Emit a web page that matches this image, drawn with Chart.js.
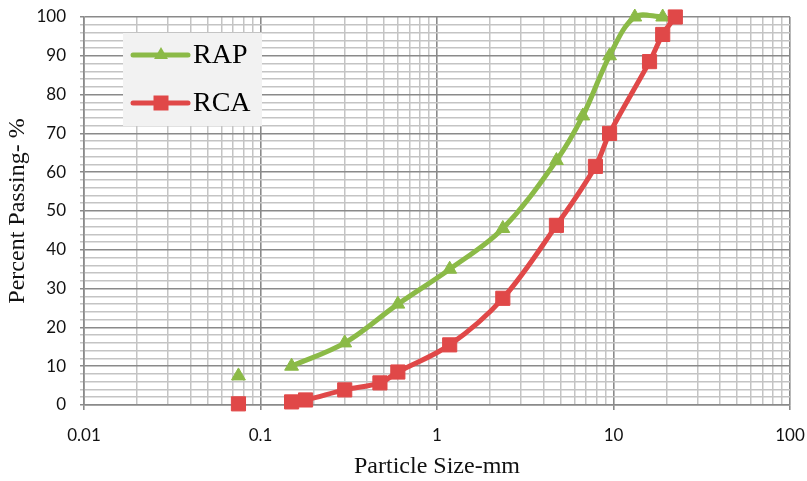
<!DOCTYPE html>
<html lang="en">
<head>
<meta charset="UTF-8">
<title>Particle Size Distribution</title>
<script src="https://cdn.jsdelivr.net/npm/chart.js"></script>
<style>
  body { margin: 0; background: #fff; }
  .wrap { width: 807px; height: 481px; position: relative; }
</style>
</head>
<body>
<div class="wrap"><canvas id="gradChart"></canvas></div>
<script>
// sieve sizes (mm) and percent passing
const rapSize = [0.075, 0.15, 0.3, 0.6, 1.18, 2.36, 4.75, 6.7, 9.5, 13.2, 19];
const rapPassing = [7.5, 10, 16, 26, 35, 45.5, 63, 74.5, 90, 100, 100];
const rcaSize = [0.075, 0.15, 0.18, 0.3, 0.475, 0.6, 1.18, 2.36, 4.75, 7.9, 9.5, 16, 19, 22.4];
const rcaPassing = [0.3, 0.8, 1.3, 3.9, 5.7, 8.5, 15.5, 27.5, 46.3, 61.5, 70, 88.5, 95.5, 100];
const xTickLabels = ['0.01', '0.1', '1', '10', '100'];
const yTickLabels = [0, 10, 20, 30, 40, 50, 60, 70, 80, 90, 100];

const green = '#8BBA47';
const red = '#E04848';
const majorGrid = '#8a8a8a';
const minorGrid = '#c4c4c4';

function toPoints(xs, ys) {
    return xs.map((x, i) => ({ x: x, y: ys[i] }));
}
const rapPts = toPoints(rapSize, rapPassing);
const rcaPts = toPoints(rcaSize, rcaPassing);

function isDecade(v) {
    const l = Math.log10(v);
    return Math.abs(l - Math.round(l)) < 1e-6;
}

// decade ticks plus 2..9 minor ticks inside every decade
const decades = xTickLabels.map(Number);
const xTicks = [];
decades.forEach((d, i) => {
    xTicks.push(d);
    if (i < decades.length - 1) {
        for (let k = 2; k <= 9; k++) xTicks.push(+(d * k).toPrecision(6));
    }
});

function seriesStyle(color, shape, radius) {
    return {
        borderColor: color,
        backgroundColor: color,
        pointBackgroundColor: color,
        pointBorderColor: color,
        pointStyle: shape,
        pointRadius: radius,
        pointHoverRadius: radius,
        pointBorderWidth: 1,
        borderWidth: 5,
        tension: 0.35,
        capBezierPoints: false,
        clip: false
    };
}

// legend box drawn inside the plot, like the spreadsheet original
const legendBox = {
    id: 'legendBox',
    afterDraw(chart) {
        const ctx = chart.ctx;
        const a = chart.chartArea;
        const bx = a.left + 39, by = a.top + 16, bw = 139, bh = 93;
        ctx.save();
        ctx.fillStyle = '#f2f2f2';
        ctx.fillRect(bx, by, bw, bh);
        const items = [
            { text: 'RAP', color: green, shape: 'triangle', y: by + 22 },
            { text: 'RCA', color: red, shape: 'rect', y: by + 70 }
        ];
        items.forEach(it => {
            ctx.strokeStyle = it.color;
            ctx.lineWidth = 5;
            ctx.lineCap = 'round';
            ctx.beginPath();
            ctx.moveTo(bx + 10, it.y);
            ctx.lineTo(bx + 65, it.y);
            ctx.stroke();
            ctx.fillStyle = it.color;
            const cx = bx + 38;
            ctx.beginPath();
            if (it.shape === 'triangle') {
                const r = 8;
                ctx.moveTo(cx, it.y - r);
                ctx.lineTo(cx + r * 0.866, it.y + r * 0.5);
                ctx.lineTo(cx - r * 0.866, it.y + r * 0.5);
                ctx.closePath();
            } else {
                ctx.rect(cx - 7.5, it.y - 7.5, 15, 15);
            }
            ctx.fill();
            ctx.fillStyle = '#000';
            ctx.font = "28px 'Liberation Serif'";
            ctx.textBaseline = 'middle';
            ctx.fillText(it.text, bx + 70, it.y + 1);
        });
        ctx.restore();
    }
};

const chart = new Chart(document.getElementById('gradChart'), {
    type: 'line',
    data: {
        datasets: [
            Object.assign({ label: 'RCA', data: rcaPts.slice(1) }, seriesStyle(red, 'rect', 10)),
            Object.assign({ label: 'RCA', data: rcaPts.slice(0, 1), showLine: false }, seriesStyle(red, 'rect', 10)),
            Object.assign({ label: 'RAP', data: rapPts.slice(1) }, seriesStyle(green, 'triangle', 8)),
            Object.assign({ label: 'RAP', data: rapPts.slice(0, 1), showLine: false }, seriesStyle(green, 'triangle', 8))
        ]
    },
    options: {
        responsive: true,
        maintainAspectRatio: false,
        animation: false,
        layout: { padding: { top: 17, right: 17, left: 0, bottom: 0 } },
        plugins: {
            legend: { display: false },
            tooltip: { enabled: false }
        },
        scales: {
            x: {
                type: 'logarithmic',
                min: 0.01,
                max: 100,
                afterBuildTicks: scale => { scale.ticks = xTicks.map(v => ({ value: v })); },
                afterFit: scale => {
                    scale.height = 76;
                    scale.paddingLeft = 0;
                    scale.paddingRight = 0;
                },
                ticks: {
                    autoSkip: false,
                    maxRotation: 0,
                    padding: 15,
                    color: '#111',
                    font: { family: 'Lato', size: 17 },
                    callback: v => isDecade(v) ? xTickLabels[Math.round(Math.log10(v)) + 2] : ''
                },
                grid: {
                    color: c => isDecade(c.tick.value) ? majorGrid : minorGrid,
                    lineWidth: c => isDecade(c.tick.value) ? 1.6 : 1.5,
                    tickColor: c => isDecade(c.tick.value) ? majorGrid : 'rgba(0,0,0,0)',
                    tickLength: 5
                },
                border: { display: true, color: majorGrid, width: 1.6 },
                title: {
                    display: true,
                    text: 'Particle Size-mm',
                    color: '#111',
                    font: { family: 'Liberation Serif', size: 24 },
                    padding: { top: 0, bottom: 0 }
                }
            },
            y: {
                min: 0,
                max: 100,
                afterFit: scale => {
                    scale.width = 84;
                    scale.paddingTop = 0;
                    scale.paddingBottom = 0;
                },
                ticks: {
                    stepSize: 2,
                    autoSkip: false,
                    padding: 14,
                    color: '#111',
                    font: { family: 'Lato', size: 17 },
                    callback: v => yTickLabels.includes(v) ? String(v) : ''
                },
                grid: {
                    color: c => c.tick.value % 10 === 0 ? majorGrid : minorGrid,
                    lineWidth: 1.5,
                    tickColor: c => c.tick.value % 10 === 0 ? majorGrid : minorGrid,
                    tickLength: 4
                },
                border: { display: true, color: majorGrid, width: 1.6 },
                title: {
                    display: true,
                    text: 'Percent Passing- %',
                    color: '#111',
                    font: { family: 'Liberation Serif', size: 24 },
                    padding: { top: 3, bottom: 0 }
                }
            }
        }
    },
    plugins: [legendBox]
});
</script>
</body>
</html>
